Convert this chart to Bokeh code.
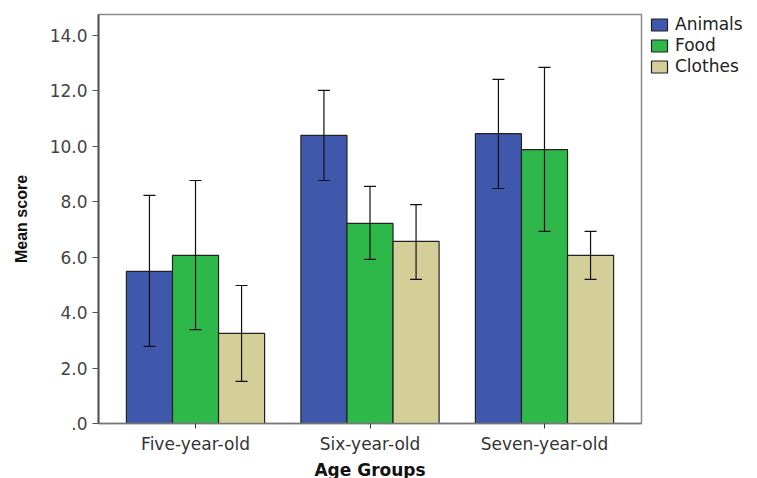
from bokeh.plotting import figure
from bokeh.models import (ColumnDataSource, Range1d, FixedTicker, Whisker, TeeHead,
                          Legend, LegendItem)
from bokeh.embed import file_html
from bokeh.resources import INLINE

groups = ["Five-year-old", "Six-year-old", "Seven-year-old"]
series = ["Animals", "Food", "Clothes"]
animals_mean = [5.49, 10.40, 10.46]
food_mean = [6.07, 7.22, 9.88]
clothes_mean = [3.25, 6.57, 6.07]
animals_lo = [2.78, 8.77, 8.48]
animals_hi = [8.23, 12.02, 12.42]
food_lo = [3.39, 5.92, 6.93]
food_hi = [8.77, 8.56, 12.85]
clothes_lo = [1.52, 5.20, 5.20]
clothes_hi = [4.98, 7.90, 6.93]
y_ticks = [0, 2, 4, 6, 8, 10, 12, 14]
y_tick_labels = [".0", "2.0", "4.0", "6.0", "8.0", "10.0", "12.0", "14.0"]

colors = ["#3F58AB", "#2FB84A", "#D4CF98"]
means = [animals_mean, food_mean, clothes_mean]
los = [animals_lo, food_lo, clothes_lo]
his = [animals_hi, food_hi, clothes_hi]
offsets = [-0.264, 0.0, 0.264]
bar_w = 0.264

FONT = "DejaVu Sans"

p = figure(frame_width=543, frame_height=409, output_backend="svg", toolbar_location=None,
           x_range=Range1d(-0.556, 2.556), y_range=Range1d(0, 14.76),
           min_border_left=98, min_border_top=14, min_border_bottom=30,
           min_border_right=105)
p.background_fill_color = "white"
p.border_fill_color = "white"
p.outline_line_color = "#8a8a8a"
p.outline_line_width = 1.5
p.xgrid.visible = False
p.ygrid.visible = False

items = []
for name, m, lo, hi, c, off in zip(series, means, los, his, colors, offsets):
    xs = [i + off for i in range(len(groups))]
    src = ColumnDataSource(dict(x=xs, top=m, lo=lo, hi=hi))
    r = p.vbar(x="x", top="top", width=bar_w, source=src, fill_color=c,
               line_color="#222222", line_width=1.2)
    items.append(LegendItem(label=name, renderers=[r]))
    w = Whisker(base="x", lower="lo", upper="hi", source=src, level="overlay",
                line_color="#111111", line_width=1.2,
                upper_head=TeeHead(size=12, line_color="#111111", line_width=1.2),
                lower_head=TeeHead(size=12, line_color="#111111", line_width=1.2))
    p.add_layout(w)

legend = Legend(items=items, location=(8, 347))
legend.label_text_font = FONT
legend.label_text_font_size = "17px"
legend.label_text_color = "#222222"
legend.glyph_width = 20
legend.glyph_height = 15
legend.spacing = 1
legend.padding = 0
legend.margin = 0
legend.label_standoff = 6
legend.label_height = 15
legend.border_line_color = None
legend.background_fill_alpha = 0
p.add_layout(legend, "right")

ya = p.yaxis[0]
ya.ticker = FixedTicker(ticks=y_ticks)
ya.major_label_overrides = {t: l for t, l in zip(y_ticks, y_tick_labels)}
ya.minor_tick_line_color = None
ya.major_tick_out = 6
ya.major_tick_in = 0
ya.axis_line_color = "#555555"
ya.axis_line_width = 2
ya.major_tick_line_color = "#555555"
ya.major_label_text_font = FONT
ya.major_label_text_font_size = "17px"
ya.major_label_text_color = "#444444"
ya.axis_label = "Mean score"
ya.axis_label_text_font = "Liberation Sans"
ya.axis_label_text_font_style = "bold"
ya.axis_label_text_font_size = "16px"
ya.axis_label_text_color = "#111111"
ya.axis_label_standoff = 17

xa = p.xaxis[0]
xa.ticker = FixedTicker(ticks=list(range(len(groups))))
xa.major_label_overrides = {i: g for i, g in enumerate(groups)}
xa.minor_tick_line_color = None
xa.major_tick_out = 5
xa.major_tick_in = 0
xa.axis_line_color = "#777777"
xa.axis_line_width = 1.5
xa.major_tick_line_color = "#333333"
xa.major_label_text_font = FONT
xa.major_label_text_font_size = "17px"
xa.major_label_text_color = "#333333"
xa.axis_label = "Age Groups"
xa.axis_label_text_font = FONT
xa.axis_label_text_font_style = "bold"
xa.axis_label_text_font_size = "17px"
xa.axis_label_text_color = "#111111"
xa.axis_label_standoff = 3

open("out.html", "w").write(file_html(p, INLINE))
